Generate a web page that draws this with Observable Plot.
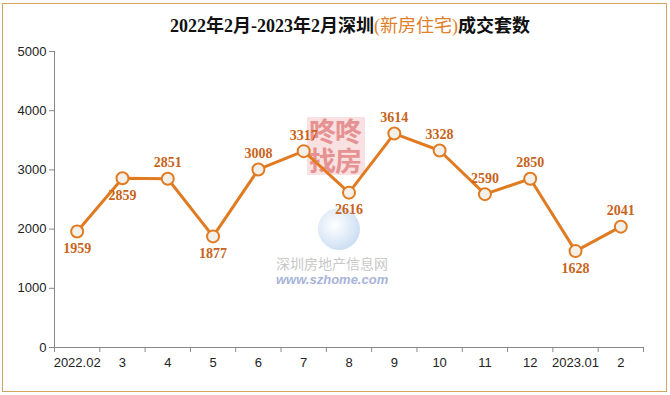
<!DOCTYPE html>
<html><head><meta charset="utf-8">
<script src="https://cdn.jsdelivr.net/npm/d3@7"></script>
<script src="https://cdn.jsdelivr.net/npm/@observablehq/plot@0.6"></script>
<style>
body{margin:0;background:#fff;}
#wrap{position:relative;width:670px;height:395px;overflow:hidden;background:#fff;}
#frame{position:absolute;left:2px;top:3px;width:663px;height:387px;border:1px solid #d2a55c;}
#title{position:absolute;left:0;width:700px;top:11px;text-align:center;font:bold 18px "Liberation Serif","Noto Sans CJK SC";color:#111;white-space:nowrap;}
#title span{color:#e0802a;font-weight:normal;}
#chart{position:absolute;left:0;top:38px;}
.wm{position:absolute;white-space:nowrap;}
</style></head>
<body>
<div id="wrap">
  <div id="frame"></div>
  <div class="wm" style="left:307px;top:117px;width:58px;height:58px;background:#f7dada;opacity:0.8;"></div>
  <div class="wm" style="left:309px;top:116px;font:bold 27px/29px 'Noto Sans CJK SC';color:#e58a8a;opacity:0.9;letter-spacing:-1px;">咚咚<br>找房</div>
  <div class="wm" style="left:318px;top:208px;width:42px;height:42px;border-radius:50%;background:radial-gradient(circle at 40% 40%,#ffffff,#a9c8ea);opacity:0.8;"></div>
  <div class="wm" style="left:276px;top:256px;font:14px/15px 'Noto Sans CJK SC';color:#c8c8c8;">深圳房地产信息网</div>
  <div class="wm" style="left:276px;top:273px;font:italic bold 13px/14px 'Liberation Sans';color:#a8b4d8;">www.szhome.com</div>
  <div id="title">2022年2月-2023年2月深圳<span>(新房住宅)</span>成交套数</div>
  <div id="chart"></div>
</div>
<script>
const months = ["2022.02","3","4","5","6","7","8","9","10","11","12","2023.01","2"];
const sales = [1959,2859,2851,1877,3008,3317,2616,3614,3328,2590,2850,1628,2041];
const labelSide = ["below","below","above","below","above","above","below","above","above","above","above","below","above"];
const yTicks = [0,1000,2000,3000,4000,5000];

const data = months.map((m,i)=>({i, m, v: sales[i], side: labelSide[i]}));
const idx = d3.range(months.length);
const bounds = d3.range(months.length + 1).map(k => k - 0.5);
const orange = "#e07b22";
const labelColor = "#c8641a";

const chart = Plot.plot({
  width: 670, height: 357,
  marginLeft: 54, marginRight: 27, marginTop: 13, marginBottom: 48,
  x: {type: "linear", domain: [-0.5, months.length - 0.5]},
  y: {domain: [0, 5000]},
  style: {fontFamily: "Liberation Sans", fontSize: "13px", background: "transparent", color: "#222"},
  marks: [
    Plot.axisY({ticks: yTicks, tickSize: 5, tickPadding: 3, stroke: "#888", label: null, tickFormat: d => String(d)}),
    Plot.ruleX([-0.5], {y1: 0, y2: 5000, stroke: "#888"}),
    Plot.ruleY([0], {stroke: "#888"}),
    Plot.axisX({ticks: bounds, tickSize: 5, tickFormat: () => "", label: null, stroke: "#888"}),
    Plot.axisX({ticks: idx, tickSize: 0, tickPadding: 10, tickFormat: i => months[i], label: null}),
    Plot.line(data, {x: "i", y: "v", stroke: orange, strokeWidth: 3}),
    Plot.dot(data, {x: "i", y: "v", r: 6, fill: "#f3efe9", stroke: orange, strokeWidth: 2}),
    Plot.text(data.filter(d => d.side === "above"), {x: "i", y: "v", text: d => String(d.v), dy: -16, fill: labelColor, fontFamily: "Liberation Serif", fontWeight: "bold", fontSize: 14}),
    Plot.text(data.filter(d => d.side === "below"), {x: "i", y: "v", text: d => String(d.v), dy: 17, fill: labelColor, fontFamily: "Liberation Serif", fontWeight: "bold", fontSize: 14})
  ]
});
document.getElementById("chart").appendChild(chart);
</script>
</body></html>
